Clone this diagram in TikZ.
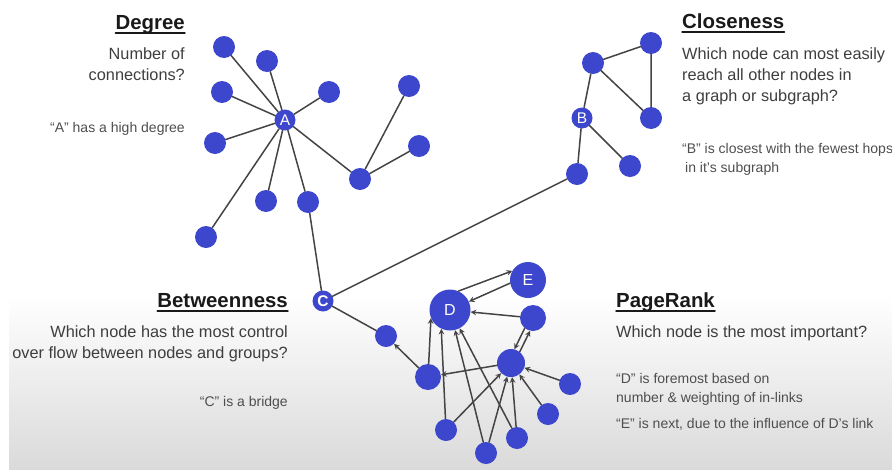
\documentclass[tikz,border=0pt]{standalone}
\usepackage{fontspec}
\setmainfont{Liberation Sans}
\definecolor{vblue}{RGB}{61,71,205}
\definecolor{edgegray}{RGB}{68,68,68}
\definecolor{headtext}{RGB}{25,25,25}
\definecolor{bodytext}{RGB}{62,62,62}
\definecolor{notetext}{RGB}{78,78,78}
\definecolor{bggray}{RGB}{218,218,218}
\begin{document}
\begin{tikzpicture}[x=1pt,y=-1pt,>=stealth,line join=round,line cap=round,
	vert/.style={circle,fill=vblue,inner sep=0pt,minimum size=22pt},
	lab/.style={vert,minimum size=21pt,text=white,font=\fontsize{15.5}{15.5}\selectfont},
	edge/.style={draw=edgegray,line width=1.5pt},
	head/.style={inner sep=0pt,text=headtext,font=\fontsize{20.4}{24}\selectfont\bfseries},
	body/.style={inner sep=0pt,text=bodytext,font=\fontsize{16.3}{20}\selectfont},
	note/.style={inner sep=0pt,text=notetext,font=\fontsize{14}{17}\selectfont},
	uline/.style={draw=headtext,line width=1.4pt}]
				\useasboundingbox (0,0) rectangle (892,469);
				\fill[top color=white,bottom color=bggray] (9,295) rectangle (892,469);
				% Degree
				\node[lab] (A) at (285,120) {A};
				\node[vert] (a1) at (224,47) {};
				\node[vert] (a2) at (267,61) {};
				\node[vert] (a3) at (222,92) {};
				\node[vert] (a4) at (329,92) {};
				\node[vert] (a5) at (215,143) {};
				\node[vert] (a6) at (266,201) {};
				\node[vert] (a7) at (308,202) {};
				\node[vert] (a8) at (206,237) {};
				\node[vert] (a9) at (360,179) {};
				\node[vert] (a10) at (409,86) {};
				\node[vert] (a11) at (419,146) {};
				\foreach \n in {a1,a2,a3,a4,a5,a6,a7,a8,a9}
					\draw[edge] (A)--(\n);
				\draw[edge] (a10)--(a9)--(a11);
				% Closeness
				\node[lab] (B) at (582,118) {B};
				\node[vert] (b1) at (593,63) {};
				\node[vert] (b2) at (651,43) {};
				\node[vert] (b3) at (651,118) {};
				\node[vert] (b4) at (630,166) {};
				\node[vert] (b5) at (577,174) {};
				\draw[edge] (B)--(b1)--(b2)--(b3)--(b1);
				\draw[edge] (b4)--(B)--(b5);
				% Betweenness
				\node[lab,font=\fontsize{15.5}{15.5}\selectfont\bfseries] (C) at (323,301) {C};
				\draw[edge] (a7)--(C)--(b5);
				% PageRank
				\node[vert,minimum size=41pt,text=white,font=\fontsize{16}{16}\selectfont] (D) at (450,310) {D};
				\node[vert,minimum size=36pt,text=white,font=\fontsize{16}{16}\selectfont] (E) at (528,280) {E};
				\node[vert,minimum size=26pt] (p1) at (533,318) {};
				\node[vert,minimum size=28pt] (p2) at (511,363) {};
				\node[vert,minimum size=26pt] (p3) at (428,377) {};
				\node[vert] (p4) at (386,336) {};
				\node[vert] (p5) at (570,384) {};
				\node[vert] (p6) at (548,414) {};
				\node[vert] (p7) at (446,430) {};
				\node[vert] (p8) at (517,438) {};
				\node[vert] (p9) at (486,453) {};
				\draw[edge] (C)--(p4);
				\draw[edge,->] (D.66)--(E.150);
				\draw[edge,->] (E.190)--(D.24);
				\draw[edge,->] (p1)--(D);
				\draw[edge,->] (p2.52)--(p1.257);
				\draw[edge,->] (p1.231)--(p2.76);
				\draw[edge,->] (p3)--(D.203);
				\draw[edge,->] (p3)--(p4);
				\draw[edge,->] (p2)--(p3);
				\draw[edge,->] (p7)--(D.245);
				\draw[edge,->] (p7)--(p2);
				\draw[edge,->] (p9)--(D);
				\draw[edge,->] (p8)--(D);
				\draw[edge,->] (p9)--(p2);
				\draw[edge,->] (p8)--(p2);
				\draw[edge,->] (p6)--(p2);
				\draw[edge,->] (p5)--(p2);
				% texts
				\node[head,anchor=base east] (tdeg) at (185,29) {Degree};
				\draw[uline] ([yshift=-4pt]tdeg.base west)--([yshift=-4pt]tdeg.base east);
				\node[body,anchor=base east] (tdeg1) at (185,59) {Number of};
				\node[body,anchor=base east] (tdeg2) at (185,80) {connections?};
				\node[note,anchor=base east] (tdeg3) at (185,132) {“A” has a high degree};
				\node[head,anchor=base west] (tclo) at (682,28) {Closeness};
				\draw[uline] ([yshift=-4pt]tclo.base west)--([yshift=-4pt]tclo.base east);
				\node[body,anchor=base west] (tclo1) at (682,59) {Which node can most easily};
				\node[body,anchor=base west] (tclo2) at (682,80) {reach all other nodes in};
				\node[body,anchor=base west] (tclo3) at (682,101) {a graph or subgraph?};
				\node[note,anchor=base west] (tclo4) at (682,153) {“B” is closest with the fewest hops};
				\node[note,anchor=base west] (tclo5) at (685,172) {in it’s subgraph};
				\node[head,anchor=base east] (tbet) at (288,307) {Betweenness};
				\draw[uline] ([yshift=-4pt]tbet.base west)--([yshift=-4pt]tbet.base east);
				\node[body,anchor=base east] (tbet1) at (288,337) {Which node has the most control};
				\node[body,anchor=base east] (tbet2) at (288,358) {over flow between nodes and groups?};
				\node[note,anchor=base east] (tbet3) at (288,406) {“C” is a bridge};
				\node[head,anchor=base west] (tpr) at (616,307) {PageRank};
				\draw[uline] ([yshift=-4pt]tpr.base west)--([yshift=-4pt]tpr.base east);
				\node[body,anchor=base west] (tpr1) at (616,337) {Which node is the most important?};
				\node[note,anchor=base west] (tpr2) at (616,383) {“D” is foremost based on};
				\node[note,anchor=base west] (tpr3) at (616,402) {number \& weighting of in-links};
				\node[note,anchor=base west] (tpr4) at (616,428) {“E” is next, due to the influence of D’s link};
			\end{tikzpicture}
\end{document}
